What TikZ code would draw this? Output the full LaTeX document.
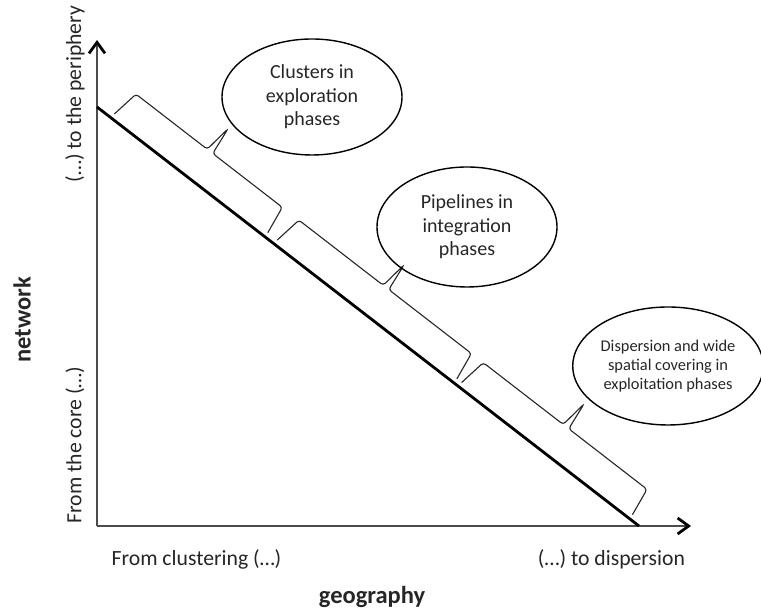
\documentclass[tikz,border=0pt]{standalone}
\usepackage{fontspec}
\setmainfont{Carlito}
\usetikzlibrary{shapes.geometric,arrows.meta}
\begin{document}
\begin{tikzpicture}[x=1pt,y=1pt,
		axis/.style={line width=1.4pt, draw=black!70, -{Straight Barb[length=11pt,width=16pt,line width=2.8pt,color=black]}},
		phase/.style={ellipse, draw=black, line width=1.4pt, inner sep=0pt, align=center, text=black!85},
		bracket/.style={line width=1.1pt, draw=black!85, rounded corners=3pt},
		lbl/.style={text=black!85, font=\fontsize{21.7}{26}\selectfont}]
			\useasboundingbox (0,0) rectangle (761,612);
			\coordinate (origin) at (97,86);
			\coordinate (ytip) at (97,572);
			\coordinate (xtip) at (691,86);
			\coordinate (start) at (97,505);
			\coordinate (end) at (639,86);
			\draw[axis] (origin) -- (ytip);
			\draw[axis] (origin) -- (xtip);
			\draw[line width=2.8pt] (start) -- (end);
			% braces along the line
			\begin{scope}[shift={(start)}, rotate=-37.71]
				\foreach \s/\e/\n in {18/212/1,224/451/2,457/673/3} {
					\pgfmathsetmacro{\m}{(\s+\e)/2}
					\draw[bracket] (\s,5) -- (\s+5,34) -- (\m-2,34) -- (\m+2,63) -- (\m+5,34) -- (\e-4,34) -- (\e,5);
					\coordinate (tip\n) at (\m+2,63);
				}
			\end{scope}
			\node[phase, minimum width=180pt, minimum height=116pt, font=\fontsize{20}{23.5}\selectfont] (explore) at (312,515) {Clusters in\\exploration\\phases};
			\node[phase, minimum width=180pt, minimum height=120pt, font=\fontsize{20}{23.5}\selectfont] (integrate) at (467,385) {Pipelines in\\integration\\phases};
			\node[phase, minimum width=182pt, minimum height=118pt, font=\fontsize{16.4}{19}\selectfont] (exploit) at (668,246) {Dispersion and wide\\spatial covering in\\exploitation phases};
			\node[lbl] (xfrom) at (196.5,53) {From clustering (…)};
			\node[lbl] (xto) at (611.5,53) {(…) to dispersion};
			\node[lbl, rotate=90] (yfrom) at (75,167) {From the core (…)};
			\node[lbl, rotate=90] (yto) at (75,518) {(…) to the periphery};
			\node[text=black!85, font=\bfseries\fontsize{24.5}{29}\selectfont] (xname) at (372,15) {geography};
			\node[text=black!85, font=\bfseries\fontsize{24.5}{29}\selectfont, rotate=90] (yname) at (22,292) {network};
		\end{tikzpicture}
\end{document}
